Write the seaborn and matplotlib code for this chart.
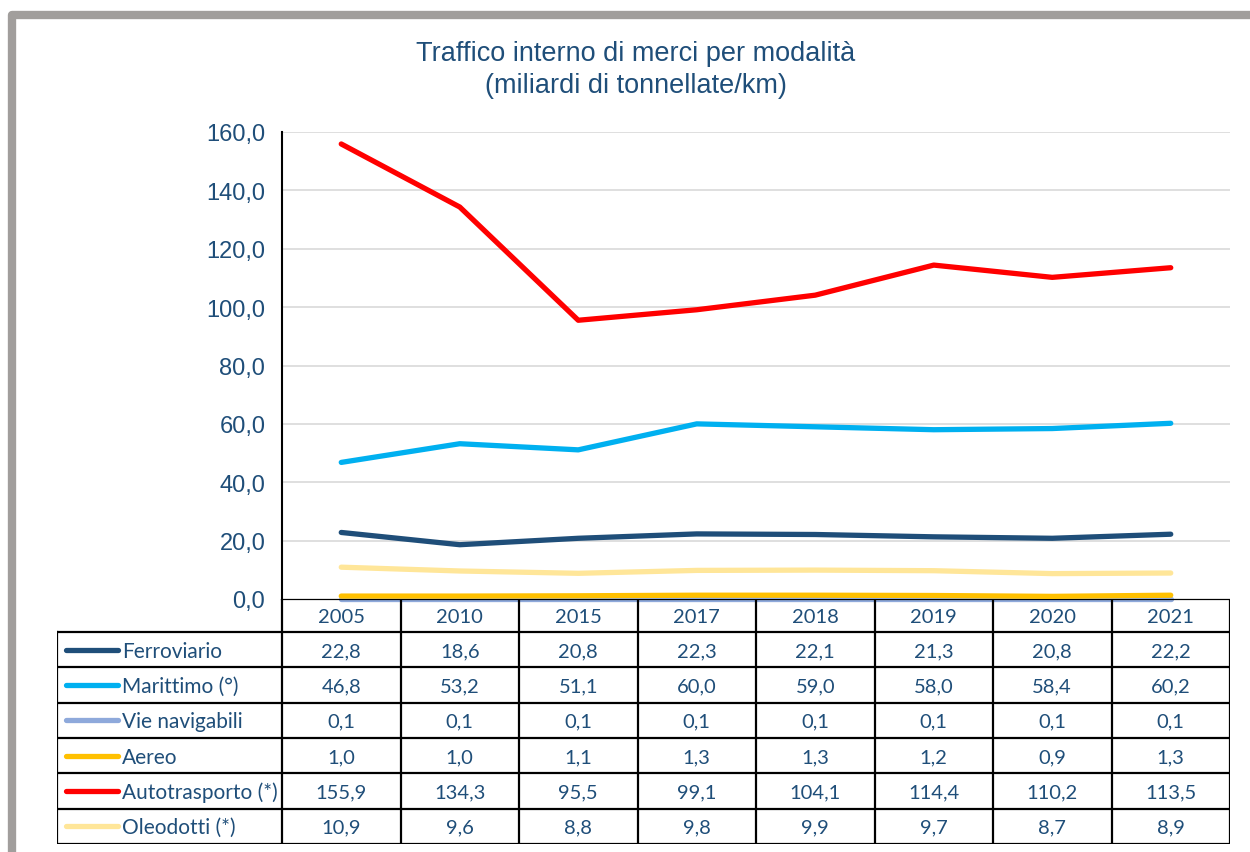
import pandas as pd
import matplotlib.pyplot as plt
import seaborn as sns
from matplotlib.lines import Line2D

# dati
anni = ['2005', '2010', '2015', '2017', '2018', '2019', '2020', '2021']
modalita = ['Ferroviario', 'Marittimo (°)', 'Vie navigabili', 'Aereo',
            'Autotrasporto (*)', 'Oleodotti (*)']
ferroviario = [22.8, 18.6, 20.8, 22.3, 22.1, 21.3, 20.8, 22.2]
marittimo = [46.8, 53.2, 51.1, 60.0, 59.0, 58.0, 58.4, 60.2]
vie_navigabili = [0.1, 0.1, 0.1, 0.1, 0.1, 0.1, 0.1, 0.1]
aereo = [1.0, 1.0, 1.1, 1.3, 1.3, 1.2, 0.9, 1.3]
autotrasporto = [155.9, 134.3, 95.5, 99.1, 104.1, 114.4, 110.2, 113.5]
oleodotti = [10.9, 9.6, 8.8, 9.8, 9.9, 9.7, 8.7, 8.9]
colori = ['#1F4E79', '#00B0F0', '#8EA9DB', '#FFC000', '#FF0000', '#FFE699']

serie = [ferroviario, marittimo, vie_navigabili, aereo, autotrasporto, oleodotti]
df = pd.DataFrame({
    'pos': list(range(len(anni))) * len(modalita),
    'valore': [v for s in serie for v in s],
    'modalita': [m for m in modalita for _ in anni],
})

sns.set_style('white')
plt.rcParams['font.family'] = ['Liberation Sans', 'DejaVu Sans']
blu = '#1F4E79'
font_tab = ['Lato', 'DejaVu Sans']

W, H = 1250, 853
fig = plt.figure(figsize=(W / 100, H / 100), dpi=100)

# cornice grigia
fig.add_artist(Line2D([12 / W, 12 / W, 1], [0, 1 - 16 / H, 1 - 16 / H],
                      transform=fig.transFigure, color='#A19E9C', lw=6,
                      solid_joinstyle='round'))

# titolo
fig.text(636 / W, 1 - 54 / H, 'Traffico interno di merci per modalità',
         ha='center', va='center', fontsize=19.5, color=blu)
fig.text(636 / W, 1 - 86 / H, '(miliardi di tonnellate/km)',
         ha='center', va='center', fontsize=19.5, color=blu)

# grafico a linee
x0, x1, ytop, ybot = 282, 1230, 133, 600
ax = fig.add_axes([x0 / W, 1 - ybot / H, (x1 - x0) / W, (ybot - ytop) / H])
sns.lineplot(data=df, x='pos', y='valore', hue='modalita', hue_order=modalita,
             palette=colori, linewidth=3.8, sort=False, legend=False, ax=ax,
             clip_on=False, solid_capstyle='round')
ax.set_xlim(-0.5, len(anni) - 0.5)
ax.set_ylim(0, 160)
ax.set_yticks(range(0, 161, 20))
ax.set_yticklabels([f'{v:.1f}'.replace('.', ',') for v in range(0, 161, 20)],
                   color=blu, fontsize=17)
ax.set_xticks([])
ax.set_xlabel('')
ax.set_ylabel('')
ax.grid(axis='y', color='#D9D9D9', lw=1.2)
ax.tick_params(axis='y', length=0, pad=12)
for s in ['top', 'right']:
    ax.spines[s].set_visible(False)
ax.spines['left'].set_color('black')
ax.spines['left'].set_linewidth(1.5)
ax.spines['bottom'].set_visible(False)

# tabella dati
tx0 = 57
tb = fig.add_axes([tx0 / W, 1 - 845 / H, (x1 - tx0) / W, (845 - ybot) / H])
tb.set_xlim(tx0, x1)
tb.set_ylim(845, ybot)
tb.axis('off')
colw = (x1 - x0) / len(anni)
hdr = 633
rowh = (845 - hdr) / len(modalita)
lk = dict(color='black', lw=1.6, solid_capstyle='projecting')

tb.plot([x0, x1], [ybot, ybot], **lk)
for i in range(len(anni) + 1):
    tb.plot([x0 + i * colw] * 2, [ybot, 845], **lk)
tb.plot([tx0, tx0], [hdr, 845], **lk)
for j in range(len(modalita) + 1):
    tb.plot([tx0, x1], [hdr + j * rowh] * 2, **lk)

for i, a in enumerate(anni):
    tb.text(x0 + (i + 0.5) * colw, (ybot + hdr) / 2 + 1, a, ha='center',
            va='center', fontsize=14.5, color=blu, family=font_tab)

for j, (m, s, c) in enumerate(zip(modalita, serie, colori)):
    yc = hdr + (j + 0.5) * rowh
    tb.plot([66, 118], [yc, yc], color=c, lw=3.8, solid_capstyle='round')
    tb.text(122, yc + 1, m, ha='left', va='center', fontsize=15, color=blu,
            family=font_tab)
    for i, v in enumerate(s):
        tb.text(x0 + (i + 0.5) * colw, yc + 1, f'{v:.1f}'.replace('.', ','),
                ha='center', va='center', fontsize=14.5, color=blu,
                family=font_tab)

fig.savefig('out.png', dpi=100)
